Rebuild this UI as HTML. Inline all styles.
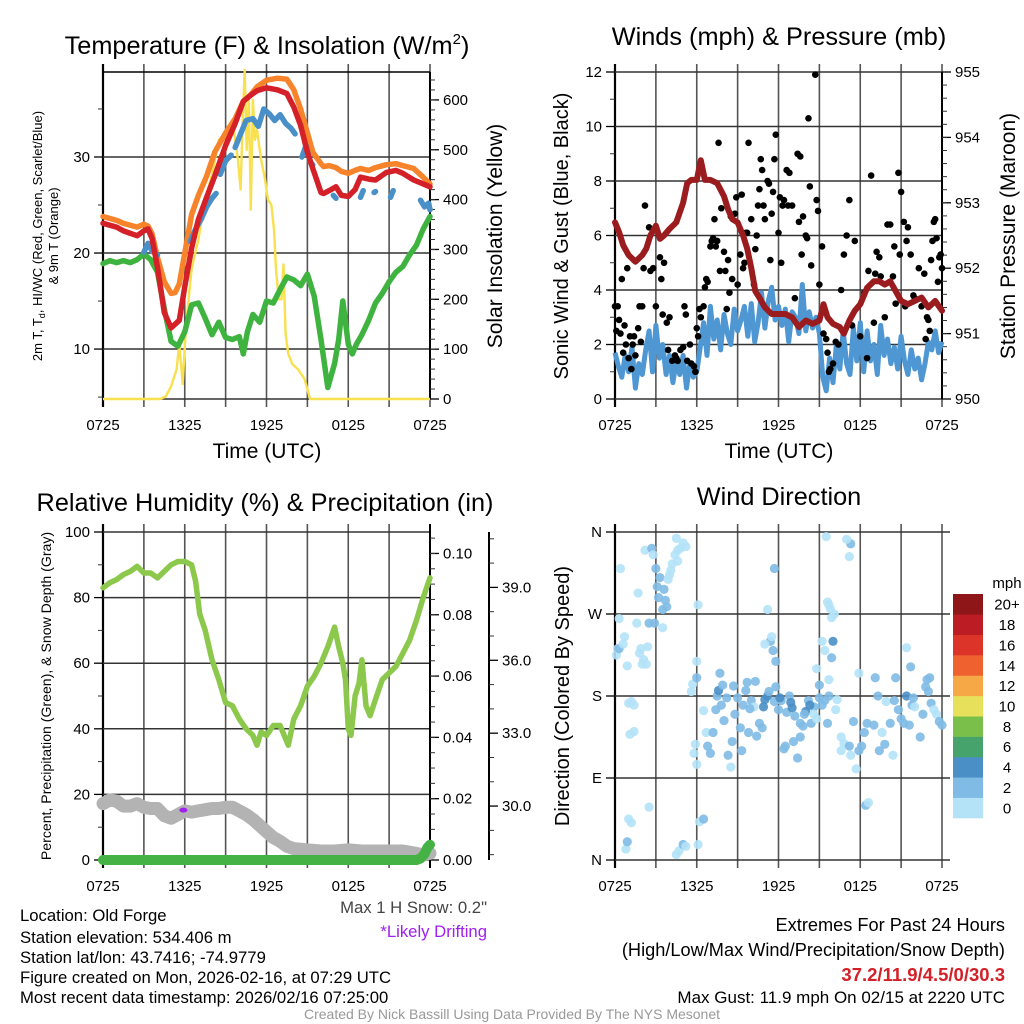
<!DOCTYPE html>
<html><head><meta charset="utf-8"><style>
html,body{margin:0;padding:0;background:#fff;}
svg{display:block;font-family:"Liberation Sans",Arial,sans-serif;}
</style></head><body>
<svg id="fig" width="1024" height="1024" viewBox="0 0 1024 1024" xmlns="http://www.w3.org/2000/svg">
<rect x="0" y="0" width="1024" height="1024" fill="#fff"/>
<g id="p1"></g>
<g id="p2"></g>
<g id="p3"></g>
<g id="p4"></g>

<text x="267" y="54" font-size="25.3" text-anchor="middle">Temperature (F) &amp; Insolation (W/m<tspan font-size="15" dy="-10">2</tspan><tspan dy="10">)</tspan></text>
<text x="779" y="45" font-size="25.3" text-anchor="middle">Winds (mph) &amp; Pressure (mb)</text>
<text x="265" y="511" font-size="25.3" text-anchor="middle">Relative Humidity (%) &amp; Precipitation (in)</text>
<text x="779" y="505" font-size="25.3" text-anchor="middle">Wind Direction</text>

<text x="267" y="458" font-size="21" text-anchor="middle">Time (UTC)</text>
<text x="779" y="458" font-size="21" text-anchor="middle">Time (UTC)</text>

<text transform="translate(42,236) rotate(-90)" font-size="13" text-anchor="middle">2m T, T<tspan font-size="9" dy="3">d</tspan><tspan dy="-3">, HI/WC (Red, Green, Scarlet/Blue)</tspan></text>
<text transform="translate(58,236) rotate(-90)" font-size="13" text-anchor="middle">&amp; 9m T (Orange)</text>
<text transform="translate(502,236) rotate(-90)" font-size="21" text-anchor="middle">Solar Insolation (Yellow)</text>
<text transform="translate(568,236) rotate(-90)" font-size="20" text-anchor="middle">Sonic Wind &amp; Gust (Blue, Black)</text>
<text transform="translate(1015,236) rotate(-90)" font-size="21" text-anchor="middle">Station Pressure (Maroon)</text>
<text transform="translate(51,696) rotate(-90)" font-size="14.1" text-anchor="middle">Percent, Precipitation (Green), &amp; Snow Depth (Gray)</text>
<text transform="translate(569,696) rotate(-90)" font-size="20" text-anchor="middle">Direction (Colored By Speed)</text>

<text x="487" y="913" font-size="16.7" text-anchor="end" fill="#444">Max 1 H Snow: 0.2"</text>
<text x="487" y="937" font-size="16.7" text-anchor="end" fill="#a020f0">*Likely Drifting</text>

<g font-size="16.7">
<text x="20" y="921">Location: Old Forge</text>
<text x="20" y="943">Station elevation: 534.406 m</text>
<text x="20" y="963">Station lat/lon: 43.7416; -74.9779</text>
<text x="20" y="983">Figure created on Mon, 2026-02-16, at 07:29 UTC</text>
<text x="20" y="1003">Most recent data timestamp: 2026/02/16 07:25:00</text>
</g>
<g text-anchor="end">
<text x="1005" y="931" font-size="18.2">Extremes For Past 24 Hours</text>
<text x="1005" y="956" font-size="18.2">(High/Low/Max Wind/Precipitation/Snow Depth)</text>
<text x="1005" y="981" font-size="18.5" font-weight="bold" fill="#d42028">37.2/11.9/4.5/0/30.3</text>
<text x="1005" y="1003" font-size="17">Max Gust: 11.9 mph On 02/15 at 2220 UTC</text>
</g>
<text x="512" y="1019" font-size="14" text-anchor="middle" fill="#999">Created By Nick Bassill Using Data Provided By The NYS Mesonet</text>
</svg>
<script>
// ---------- data ----------
const xTickLabels = ["0725","1325","1925","0125","0725"];
// Panel 1
const tempTimes = [0,1,1.5,2.5,3,3.3,3.6,4,4.5,5,5.3,5.6,6,6.5,7,7.6,8.2,9,9.7,10.3,10.8,11.3,12,12.8,13.5,14,14.5,15,15.4,16,16.2,16.6,17.1,17.5,18,18.5,18.9,19.5,20,20.8,21.5,22,22.8,23.5,24];
const tempRed = [23.1,22.7,22.3,21.8,22.3,22.5,21.5,18.5,13.8,12.2,12.6,13.0,16.5,20.5,23.5,25.8,28,31.2,33.5,35.8,36.4,36.9,37.2,37.0,36.6,35.2,33.3,30.5,28.8,26.3,26.2,26.5,26.9,26.0,25.9,26.6,27.9,27.7,27.6,28.4,28.6,28.3,27.6,27.2,26.9];
const tempOrange = [23.8,23.4,23.1,22.7,23.0,22.8,22.0,19.5,17.0,15.8,15.9,16.8,20.0,24.0,26.0,28.0,30.5,32.5,34.0,35.8,36.4,37.3,38.0,38.2,38.1,37.0,35.0,32.5,30.5,29.3,29.0,29.1,28.9,28.5,28.3,28.6,28.8,28.6,28.9,29.2,29.3,29.1,28.8,27.9,27.2];
const wcTimes = [3.0,3.3,3.6,4.0,null,6.4,6.8,7.2,7.6,8.0,8.3,null,8.6,9.0,9.4,null,9.7,10.1,10.5,11.0,11.4,11.8,12.2,12.6,13.0,13.4,13.8,14.1,null,14.6,14.9,15.2,15.4,null,16.9,17.1,null,18.9,19.1,null,19.9,20.0,null,21.1,21.3,null,23.3,23.6,23.9,24];
const wcBlue = [20.1,21.0,20.2,19.8,null,21.2,22.5,23.5,24.8,25.7,26.2,null,28.2,29.6,30.2,null,31.0,32.4,33.8,34.0,33.2,35.0,34.5,33.8,34.4,33.5,33.0,32.4,null,30.0,31.2,29.5,29.2,null,26.0,25.7,null,25.8,26.5,null,26.3,26.4,null,25.8,26.5,null,25.5,24.8,25.2,24.5];
const dewTimes = [0,0.5,1,1.5,2,2.5,3,3.5,4,4.5,5,5.5,6,6.5,7,7.5,8,8.5,9,9.5,10,10.3,10.6,11,11.5,12,12.5,13,13.5,14,14.5,15,15.5,16,16.5,17,17.3,17.6,18,18.3,18.6,19,19.5,20,20.5,21,21.5,22,22.5,23,23.5,24];
const dewGreen = [18.9,19.2,19.0,19.2,19.0,19.3,19.9,19.3,18.0,14.2,10.8,10.3,11.8,14.6,14.8,13.2,11.5,12.8,11.2,11.0,11.3,9.5,11.8,13.6,12.8,15.0,14.8,16.2,17.5,17.2,16.6,17.8,15.5,11.0,6.0,8.5,11.0,15.0,10.5,9.5,10.5,11.5,13.0,14.8,15.8,17.0,18.0,18.6,19.8,20.8,22.5,23.8];
const solarTimes = [0,4.2,4.6,5.0,5.4,5.6,5.85,6.1,6.5,7,7.5,8,8.5,9,9.5,9.9,10.1,10.25,10.4,10.55,10.7,10.85,11,11.15,11.3,11.6,11.9,12.1,12.35,12.55,12.7,12.9,13.1,13.25,13.4,13.6,13.9,14.3,14.8,15.2,16,24];
const solar = [0,0,5,25,60,110,30,150,260,320,400,450,520,530,560,480,420,560,660,500,610,380,600,520,540,480,440,400,390,340,260,200,200,270,130,90,70,60,40,0,0,0];
// Panel 2
const windTimes = [0,0.25,0.5,0.75,1,1.25,1.5,1.75,2,2.25,2.5,2.75,3,3.25,3.5,3.75,4,4.25,4.5,4.75,5,5.25,5.5,5.75,6,6.25,6.5,6.75,7,7.25,7.5,7.75,8,8.25,8.5,8.75,9,9.25,9.5,9.75,10,10.25,10.5,10.75,11,11.25,11.5,11.75,12,12.25,12.5,12.75,13,13.25,13.5,13.75,14,14.25,14.5,14.75,15,15.25,15.5,15.75,16,16.25,16.5,16.75,17,17.25,17.5,17.75,18,18.25,18.5,18.75,19,19.25,19.5,19.75,20,20.25,20.5,20.75,21,21.25,21.5,21.75,22,22.25,22.5,22.75,23,23.25,23.5,23.75,24];
const windSpeed = [1.7,1.2,0.8,1.6,1.0,1.9,0.4,1.3,0.9,1.8,2.5,1.0,2.7,1.5,2.0,0.9,1.6,0.6,1.4,0.9,1.6,0.4,1.3,0.8,1.0,1.9,2.8,1.6,3.4,2.2,2.9,1.8,3.1,2.4,2.0,3.3,2.5,2.9,3.4,2.3,3.5,2.1,2.8,3.9,2.6,3.6,4.1,2.9,3.4,2.7,3.3,2.1,3.2,3.0,2.4,4.2,2.5,3.2,2.6,3.0,2.4,0.8,0.3,1.5,0.6,2.0,1.1,2.5,1.3,0.9,2.6,1.4,2.8,1.0,2.5,1.4,2.0,0.9,2.7,1.6,2.2,1.3,1.9,1.1,2.3,1.4,0.9,1.8,1.1,1.5,0.7,1.3,2.1,1.8,2.5,1.7,2.1];
const gustTimes = [0,0.1,0.2,0.3,0.4,0.5,0.6,0.7,0.8,0.9,1.0,1.1,1.2,1.3,1.4,1.5,1.7,1.8,1.9,2.0,2.1,2.2,2.5,2.6,2.8,3.0,3.3,3.4,3.5,3.6,3.8,3.9,4.0,4.2,4.4,4.5,4.6,4.8,5.0,5.1,5.2,5.3,5.5,5.6,5.8,5.9,6.0,6.1,6.2,6.3,6.5,6.6,6.7,6.8,7.0,7.1,7.2,7.3,7.4,7.5,7.6,7.7,7.8,8.0,8.1,8.2,8.3,8.4,8.5,8.6,8.8,8.9,9.0,9.2,9.3,9.4,9.5,9.6,9.7,9.8,10.0,10.2,10.3,10.4,10.5,10.6,10.7,10.8,10.9,11.0,11.2,11.3,11.4,11.5,11.6,11.7,11.8,12.0,12.1,12.2,12.3,12.4,12.6,12.7,12.8,13.0,13.2,13.4,13.5,13.6,13.7,13.8,14.0,14.1,14.2,14.3,14.4,14.7,14.8,14.9,15.0,15.2,15.3,15.5,15.6,15.7,15.8,16.0,16.2,16.4,16.6,16.8,17.0,17.2,17.4,17.6,18.0,18.3,18.5,18.6,18.8,19.0,19.1,19.2,19.4,19.5,19.8,20.0,20.2,20.4,20.5,20.6,20.8,20.9,21.0,21.2,21.3,21.4,21.5,21.7,21.9,22.0,22.3,22.5,22.7,22.8,22.9,23.0,23.1,23.2,23.3,23.4,23.5,23.6,23.7,23.8,23.9,24.0];
const gustSpeed = [3.4,2.5,3.4,2.9,2.4,4.4,1.7,2.7,2.0,4.8,1.5,2.3,1.1,2.0,2.3,1.6,2.6,3.4,2.1,3.4,4.8,7.1,6.3,4.7,4.8,3.4,5.2,4.4,3.1,5.0,2.8,1.8,3.0,1.4,1.6,1.5,1.4,1.8,1.9,3.4,3.1,1.4,2.0,1.3,1.2,1.0,2.6,2.3,3.3,3.0,3.4,4.1,4.4,4.3,5.6,5.8,5.9,6.6,5.6,5.8,9.4,4.7,7.0,5.4,4.7,3.3,5.1,3.9,6.7,4.4,6.8,7.4,4.2,5.3,7.5,4.8,5.0,6.1,6.1,9.4,6.6,4.2,5.5,6.0,7.1,7.7,8.8,8.4,7.1,6.6,8.0,7.9,5.1,6.8,7.6,8.8,9.7,6.1,7.4,5.0,7.1,7.3,8.4,7.1,8.3,7.1,3.7,9.0,6.5,8.9,5.3,6.7,6.0,5.9,10.3,7.8,4.9,11.9,7.3,6.9,4.2,5.6,2.4,2.2,1.7,1.0,1.1,1.3,2.1,2.0,4.0,5.3,6.0,7.3,2.7,5.8,2.3,3.9,1.5,4.7,8.2,2.8,4.6,5.4,5.2,4.5,3.0,6.4,6.4,4.5,5.6,3.5,8.3,5.3,7.6,6.5,3.4,5.8,6.3,5.3,3.8,3.7,4.8,3.4,4.6,2.2,3.0,2.9,2.5,5.1,5.8,6.5,6.6,5.9,4.3,5.2,5.3,4.8];
const presTimes = [0,0.3,0.6,1,1.5,2,2.3,2.6,3,3.3,3.6,4,4.5,5,5.3,5.6,6,6.3,6.6,7,7.5,8,8.3,8.6,9,9.4,9.7,10,10.3,10.6,11,11.5,12,12.5,13,13.5,14,14.5,15,15.3,15.6,16,16.5,16.8,17.2,17.6,18,18.5,19,19.4,19.8,20.2,20.6,21,21.5,22,22.5,23,23.5,24];
const pressure = [952.7,952.55,952.35,952.2,952.1,952.2,952.3,952.5,952.65,952.45,952.5,952.6,952.7,953.0,953.3,953.35,953.35,953.65,953.35,953.35,953.3,953.1,952.9,952.75,952.7,952.5,952.3,952.0,951.65,951.55,951.4,951.3,951.3,951.3,951.25,951.1,951.2,951.15,951.2,951.45,951.25,951.15,951.1,951.0,951.2,951.35,951.45,951.7,951.8,951.8,951.75,951.8,951.65,951.5,951.45,951.5,951.55,951.4,951.5,951.35];
// Panel 3
const rhTimes = [0,0.5,1,1.5,2,2.5,3,3.5,4,4.5,5,5.5,6,6.5,6.8,7.1,7.5,8,8.5,9,9.5,10,10.5,11,11.3,11.6,12,12.5,13,13.3,13.6,14,14.5,15,15.5,16,16.5,17,17.3,17.6,17.8,18.0,18.2,18.5,18.8,19.0,19.3,19.6,20,20.5,21,21.5,22,22.5,23,23.5,24];
const rhValues = [83,84.5,85.5,87,88,89.5,87.5,87.5,86,88,90,91,91,90,85,75,70,61,55,48,47,43,40,38,35,39,38,41,41,38,35,43,47,53,56,60,65,71,65,60,55,40,38,50,54,61,47,44,49,55,57,59,63,67,73,80,86];
const snowTimes = [0,0.5,1,1.5,2,2.5,3,3.5,4,4.5,5,5.5,6,6.5,7,7.5,8,8.5,9,9.5,10,10.5,11,11.5,12,12.5,13,13.5,14,15,16,17,18,19,20,21,22,23,23.5,24];
const snowDepth = [30.1,30.25,30.2,30.0,30.0,30.1,29.95,29.9,29.9,29.6,29.5,29.65,29.8,29.75,29.8,29.85,29.9,29.9,29.95,29.95,29.8,29.65,29.45,29.2,28.95,28.7,28.55,28.35,28.25,28.2,28.15,28.15,28.2,28.15,28.15,28.15,28.15,28.05,28.0,28.05];
const precipTimes = [0,23.0,23.3,23.6,23.8,24];
const precipValues = [0,0,0.0005,0.002,0.004,0.005];
// Panel 4
const dirTimes = [0.1,0.2,0.3,0.3,0.4,0.6,0.7,0.9,1.0,1.1,1.2,1.4,1.4,1.6,1.7,1.8,1.9,2.0,2.1,2.2,2.3,2.4,2.5,2.7,2.8,2.9,3.0,3.1,3.2,3.3,3.5,3.5,3.6,3.7,3.8,3.9,4.0,4.1,4.2,4.4,4.6,4.8,5.0,5.2,4.6,4.5,0.8,0.9,1.0,1.2,2.5,4.5,4.7,5.0,5.2,6.1,6.2,6.5,6.0,5.8,5.9,5.6,5.7,6.0,6.1,6.5,6.7,6.8,7.0,7.2,7.4,7.5,7.6,7.7,7.8,8.0,8.2,8.3,8.5,8.6,8.8,9.0,9.2,9.4,9.6,9.8,10.0,10.2,10.4,10.6,10.8,11.0,11.2,11.4,11.6,11.8,12.0,12.2,12.4,12.6,12.8,13.0,13.2,13.4,13.6,13.8,14.0,14.2,14.4,14.6,14.8,15.0,15.2,15.4,15.6,15.7,9.7,10.3,11.7,12.1,12.9,13.6,14.3,7.9,8.7,9.3,9.9,10.9,11.3,12.5,13.1,13.9,14.6,15.0,15.2,15.4,14.8,15.7,15.9,16.2,16.6,16.8,17.2,17.5,17.9,17.3,16.3,16.6,17.7,18.1,18.4,18.6,18.3,18.5,19.0,19.3,19.6,19.9,20.2,20.5,20.8,21.0,21.2,21.4,21.6,21.8,22.0,22.4,22.6,22.8,23.0,23.2,23.4,23.6,23.8,24.0,22.9,23.1,21.9,20.6,21.4,20.4,19.4,19.8,17.2,17.3,17.0,15.5,15.7,15.8,15.9,15.6,16.1,11.2,11.0,11.5,11.8,11.7,21.7,19.1,17.9,16.0,6.0];
const dirDegrees = [225,232,232,265,320,237,245,213,172,138,174,141,170,260,293,227,232,215,220,340,215,234,260,342,335,260,320,300,288,310,275,255,297,285,278,308,313,318,325,335,340,342,348,344,328,353,12,20,45,41,58,6,10,17,15,17,42,45,105,117,127,185,193,218,280,164,140,125,117,140,165,180,186,205,170,153,178,115,102,130,160,178,145,170,186,140,175,168,136,150,145,176,180,240,230,190,165,175,122,162,180,167,158,112,135,147,163,175,150,168,155,178,170,175,150,180,195,196,174,178,173,150,170,192,191,120,166,168,185,125,130,160,160,192,240,230,210,198,222,165,135,128,125,152,120,115,176,120,100,125,60,63,140,150,148,180,140,174,150,175,165,155,150,180,148,170,168,135,160,190,185,172,165,160,152,148,198,200,178,200,233,115,120,127,333,347,352,355,280,276,266,283,270,275,237,245,218,320,212,200,205,240,200];
const dirSpeeds = [1,0,2,0,0,1,1,0,0,0,0,0,0,0,0,0,0,0,0,0,0,0,2,2,0,2,2,2,2,2,2,0,2,2,2,0,0,0,0,0,0,0,0,0,0,0,0,2,0,0,0,0,0,2,0,0,0,2,0,0,0,0,0,0,0,0,0,2,2,2,2,2,4,2,2,2,2,2,0,2,2,2,2,2,2,2,2,0,2,2,2,4,4,2,2,2,2,2,2,2,2,4,2,2,2,2,4,2,2,2,0,2,2,2,2,2,2,2,2,4,4,2,4,2,2,2,2,4,2,2,2,2,0,2,0,0,0,0,2,0,0,0,2,2,2,0,0,0,0,2,2,0,2,2,2,2,0,0,2,2,2,2,2,4,2,2,0,2,2,2,2,2,0,0,2,2,2,2,2,2,0,0,2,2,0,2,0,0,0,0,0,0,0,0,0,0,2,2,2,2,0,4,2,0,0,0];
const cbarLabels = ["0","2","4","6","8","10","12","14","16","18","20+"];
const cbarColors = ["#b4e2f7","#7fbbe5","#4a8fc6","#47a36c","#7bbf4b","#e7e05b","#f6a846","#ef6230","#dc3428","#bc1d25","#8e1619"];

// ---------- helpers ----------
const NS = "http://www.w3.org/2000/svg";
function mk(tag, attrs, parent){
  const e = document.createElementNS(NS, tag);
  for (const k in attrs) e.setAttribute(k, attrs[k]);
  parent.appendChild(e);
  return e;
}
function linScale(d0,d1,r0,r1){ return v => r0 + (v-d0)/(d1-d0)*(r1-r0); }
function pathFrom(ts, vs, sx, sy){
  let d = "", pen = false;
  for (let i=0;i<ts.length;i++){
    if (ts[i]===null || vs[i]===null){ pen=false; continue; }
    d += (pen?"L":"M") + sx(ts[i]).toFixed(1) + "," + sy(vs[i]).toFixed(1);
    pen = true;
  }
  return d;
}
function frame(g, x0, x1, y0, y1, name){
  const gx = linScale(0,24,x0,x1);
  for (let h=0; h<=24; h+=3){
    const x = gx(h);
    const l = mk("line",{x1:x,x2:x,y1:y0-8,y2:y1+8,stroke:"#555","stroke-width":1.6},g);
    
    
  }
  for (let i=0;i<xTickLabels.length;i++){
    const t = mk("text",{x:gx(i*6),y:y1+31,"font-size":15,"text-anchor":"middle"},g);
    t.textContent = xTickLabels[i];
    
    
  }
  const b = mk("line",{x1:x0,x2:x0,y1:y0-8,y2:y1+8,stroke:"#000","stroke-width":2.2},g);
  
  
  return gx;
}
function yAxis(g, x, sy, ticks, labels, minors, side, name, gridX1, gridX0){
  const dir = side==="left" ? -1 : 1;
  for (let i=0;i<ticks.length;i++){
    const y = sy(ticks[i]);
    if (gridX1!==undefined){
      const gl = mk("line",{x1:gridX0,x2:gridX1,y1:y,y2:y,stroke:"#333","stroke-width":1.5},g);
      
      
    }
    const tk = mk("line",{x1:x,x2:x+dir*9,y1:y,y2:y,stroke:"#000","stroke-width":1.3},g);
    
    
    const t = mk("text",{x:x+dir*13,y:y+5,"font-size":15,"text-anchor":side==="left"?"end":"start"},g);
    t.textContent = labels[i];
    
    
  }
  for (const m of minors){
    const y = sy(m);
    const tk = mk("line",{x1:x,x2:x+dir*5,y1:y,y2:y,stroke:"#333","stroke-width":1},g);
    
    
  }
}
function range(a,b,s){ const r=[]; for(let v=a; v<=b+1e-9; v+=s) r.push(+v.toFixed(4)); return r; }

// ---------- Panel 1 ----------
(function(){
  const g = document.getElementById("p1");
  const x0=103,x1=430,y0=72,y1=399;
  const sx = frame(g,x0,x1,y0,y1,"temperature");
  const sy = linScale(4.8,38.85,y1,y0);
  const sr = linScale(0,656,y1,y0);
  yAxis(g,x0,sy,[10,20,30],["10","20","30"],[5,15,25,35],"left","temperature-y",x1,x0);
  const top = mk("line",{x1:x0,x2:x1,y1:y0,y2:y0,stroke:"#000","stroke-width":1.5},g);
  
  
  const bot = mk("line",{x1:x0,x2:x1,y1:y1,y2:y1,stroke:"#333","stroke-width":1.5},g);
  
  
  const rb = mk("line",{x1:x1,x2:x1,y1:y0,y2:y1,stroke:"#000","stroke-width":2},g);
  
  
  yAxis(g,x1,sr,[0,100,200,300,400,500,600],["0","100","200","300","400","500","600"],range(20,640,20),"right","insolation-y");
  const so = mk("path",{d:pathFrom(solarTimes,solar,sx,sr),fill:"none",stroke:"#f8e04e","stroke-width":2.4,"stroke-linejoin":"round"},g);
  
  
  const dg = mk("path",{d:pathFrom(dewTimes,dewGreen,sx,sy),fill:"none",stroke:"#3fb33f","stroke-width":5.5,"stroke-linejoin":"round","stroke-linecap":"round"},g);
  
  
  const or = mk("path",{d:pathFrom(tempTimes,tempOrange,sx,sy),fill:"none",stroke:"#f7832a","stroke-width":5.5,"stroke-linejoin":"round","stroke-linecap":"round"},g);
  
  
  const bl = mk("path",{d:pathFrom(wcTimes,wcBlue,sx,sy),fill:"none",stroke:"#4a90c8","stroke-width":5.5,"stroke-linejoin":"round","stroke-linecap":"round"},g);
  
  
  const rd = mk("path",{d:pathFrom(tempTimes,tempRed,sx,sy),fill:"none",stroke:"#d42028","stroke-width":5.5,"stroke-linejoin":"round","stroke-linecap":"round"},g);
  
  
})();

// ---------- Panel 2 ----------
(function(){
  const g = document.getElementById("p2");
  const x0=615,x1=942,y0=72,y1=399;
  const sx = frame(g,x0,x1,y0,y1,"winds");
  const sy = linScale(0,12,y1,y0);
  const sp = linScale(950,955,y1,y0);
  yAxis(g,x0,sy,[0,2,4,6,8,10,12],["0","2","4","6","8","10","12"],[1,3,5,7,9,11],"left","wind-y",x1,x0);
  const rb = mk("line",{x1:x1,x2:x1,y1:y0,y2:y1,stroke:"#000","stroke-width":2},g);
  
  
  yAxis(g,x1,sp,[950,951,952,953,954,955],["950","951","952","953","954","955"],range(950.2,954.8,0.2),"right","pressure-y");
  const ws = mk("path",{d:pathFrom(windTimes,windSpeed,sx,sy),fill:"none",stroke:"#4f97d3","stroke-width":5,"stroke-linejoin":"round"},g);
  
  
  const gg = mk("g",{},g);
  
  
  for (let i=0;i<gustTimes.length;i++){
    const c = mk("circle",{cx:sx(gustTimes[i]),cy:sy(gustSpeed[i]),r:3.3,fill:"#000"},gg);
    
    
  }
  const pr = mk("path",{d:pathFrom(presTimes,pressure,sx,sp),fill:"none",stroke:"#9b1c1f","stroke-width":6,"stroke-linejoin":"round","stroke-linecap":"round"},g);
  
  
})();

// ---------- Panel 3 ----------
(function(){
  const g = document.getElementById("p3");
  const x0=103,x1=430,y0=532,y1=860;
  const sx = frame(g,x0,x1,y0,y1,"humidity");
  const sy = linScale(0,100,y1,y0);
  const spc = linScale(0,0.107,y1,y0);
  const ssn = linScale(27.78,41.28,y1,y0);
  yAxis(g,x0,sy,[0,20,40,60,80,100],["0","20","40","60","80","100"],[10,30,50,70,90],"left","humidity-y",x1,x0);
  const rb = mk("line",{x1:x1,x2:x1,y1:y0-8,y2:y1+8,stroke:"#000","stroke-width":2},g);
  
  
  yAxis(g,x1,spc,[0,0.02,0.04,0.06,0.08,0.1],["0.00","0.02","0.04","0.06","0.08","0.10"],range(0.005,0.105,0.005),"right","precip-y");
  const sa = mk("line",{x1:489,x2:489,y1:y0,y2:y1,stroke:"#000","stroke-width":2},g);
  
  
  yAxis(g,489,ssn,[30,33,36,39],["30.0","33.0","36.0","39.0"],[28,29,31,32,34,35,37,38,40,41],"right","snow-y");
  const sn = mk("path",{d:pathFrom(snowTimes,snowDepth,sx,ssn),fill:"none",stroke:"#b3b3b3","stroke-width":13,"stroke-linejoin":"round","stroke-linecap":"round"},g);
  
  
  const pu = mk("ellipse",{cx:sx(5.9),cy:sy(15.2),rx:4,ry:2.5,fill:"#a020f0"},g);
  
  
  const pc = mk("path",{d:pathFrom(precipTimes,precipValues,sx,spc),fill:"none",stroke:"#44b244","stroke-width":10,"stroke-linejoin":"round","stroke-linecap":"round"},g);
  
  
  const rh = mk("path",{d:pathFrom(rhTimes,rhValues,sx,sy),fill:"none",stroke:"#8cc84c","stroke-width":5.5,"stroke-linejoin":"round","stroke-linecap":"round"},g);
  
  
})();

// ---------- Panel 4 ----------
(function(){
  const g = document.getElementById("p4");
  const x0=615,x1=942,y0=532,y1=860;
  const sx = frame(g,x0,x1,y0,y1,"direction");
  const sy = linScale(0,360,y1,y0);
  yAxis(g,x0,sy,[0,90,180,270,360],["N","E","S","W","N"],[],"left","direction-y",x1+8,x0);
  const gd = mk("g",{},g);
  
  
  for (let i=0;i<dirTimes.length;i++){
    const bin = Math.min(10, Math.floor(dirSpeeds[i]/2));
    const c = mk("circle",{cx:sx(dirTimes[i]),cy:sy(dirDegrees[i]),r:4.6,fill:cbarColors[bin],"fill-opacity":0.9},gd);
    
    
  }
  const cb = mk("g",{},g);
  
  
  const by0=594, by1=818, bh=(by1-by0)/cbarColors.length;
  for (let i=0;i<cbarColors.length;i++){
    const y = by1 - (i+1)*bh;
    const r = mk("rect",{x:953,y:y,width:30,height:bh+0.3,fill:cbarColors[i]},cb);
    
    
    const t = mk("text",{x:1007,y:y+bh/2+5.5,"font-size":15,"text-anchor":"middle"},cb);
    t.textContent = cbarLabels[i];
    
    
  }
  const u = mk("text",{x:1007,y:588,"font-size":15,"text-anchor":"middle"},cb);
  u.textContent = "mph";
  
  
})();
</script>
</body></html>
